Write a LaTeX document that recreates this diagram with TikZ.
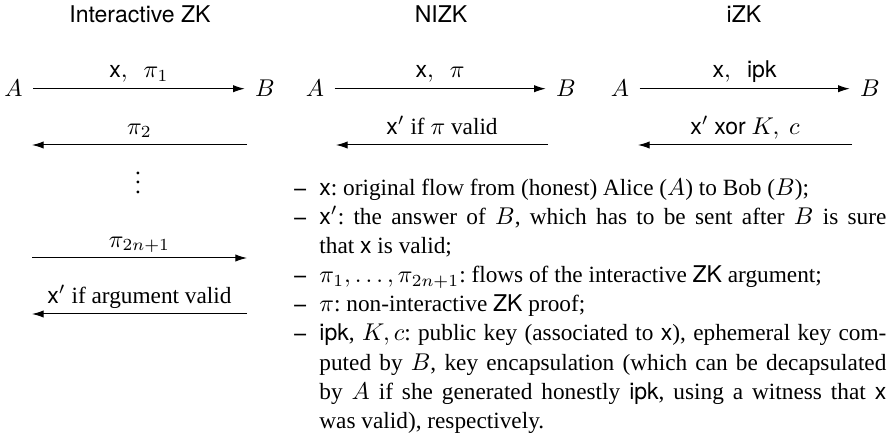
\documentclass[tikz,border=0pt]{standalone}
\usepackage[no-math]{fontspec}
\setmainfont{Liberation Serif}[Scale=0.96]
\setsansfont{TeX Gyre Heros}[Scale=0.95]
\usetikzlibrary{arrows.meta}
\newcommand\itm{\par\noindent\llap{\textbf{--}\hskip5.5pt}}
\begin{document}
\begin{tikzpicture}[x=0.41237pt,y=-0.41237pt,
  msg/.style={-{Latex[length=4.8pt,width=3pt]}, line width=0.42pt},
  ent/.style={inner xsep=4.1pt, inner ysep=0pt, anchor=base},
  lbl/.style={anchor=base, inner sep=0pt, yshift=4.5pt},
  head/.style={anchor=base, inner sep=0pt, font=\sffamily}]
\useasboundingbox (0,0) rectangle (888,440);

% headings
\node[head] (h1) at (140,23) {Interactive ZK};
\node[head] (h2) at (441,23) {NIZK};
\node[head] (h3) at (744,23) {iZK};

% column 1: interactive ZK
\node[ent] (A1) at (13.5,97) {$A$};
\node[ent] (B1) at (265,97) {$B$};
\draw[msg] (A1) -- node[lbl] (l11) {$\textsf{x},\hspace{5pt}\pi_1$} (B1);
\coordinate (c12s) at (247,145);
\coordinate (c12e) at (32,145);
\draw[msg] (c12s) -- node[lbl] (l12) {$\pi_2$} (c12e);
\node[anchor=base, inner sep=0pt] (dots) at (138,193.5) {$\vdots$};
\coordinate (c13s) at (32,258);
\coordinate (c13e) at (247,258);
\draw[msg] (c13s) -- node[lbl] (l13) {$\pi_{2n+1}$} (c13e);
\coordinate (c14s) at (247,314);
\coordinate (c14e) at (32,314);
\draw[msg] (c14s) -- node[lbl] (l14) {\textsf{x}$'$ if argument valid} (c14e);

% column 2: NIZK
\node[ent] (A2) at (315,97) {$A$};
\node[ent] (B2) at (566,97) {$B$};
\draw[msg] (A2) -- node[lbl] (l21) {$\textsf{x},\hspace{5pt}\pi$} (B2);
\coordinate (c22s) at (548,145);
\coordinate (c22e) at (336,145);
\draw[msg] (c22s) -- node[lbl] (l22) {\textsf{x}$'$ if $\pi$ valid} (c22e);

% column 3: iZK
\node[ent] (A3) at (620,97) {$A$};
\node[ent] (B3) at (870,97) {$B$};
\draw[msg] (A3) -- node[lbl] (l31) {$\textsf{x},\hspace{5pt}\textsf{ipk}$} (B3);
\coordinate (c32s) at (852,145);
\coordinate (c32e) at (638,145);
\draw[msg] (c32s) -- node[lbl] (l32) {\textsf{x}$'$ \textsf{xor} $K,\ c$} (c32e);

% legend
\node[anchor=north west, inner sep=0pt] (notes) at (293,173.2) {%
\begin{minipage}[t]{244.5pt}
\leftskip=10.7pt\rightskip=0pt\parfillskip=0pt plus 1fil\parindent=0pt\parskip=0pt
\frenchspacing\baselineskip=12pt
\itm\rule{0pt}{9pt}\textsf{x}: original flow from (honest) Alice ($A$) to Bob ($B$);
\itm \textsf{x}$'$: the answer of $B$, which has to be sent after $B$ is sure\linebreak that \textsf{x} is valid;
\itm $\pi_1,\ldots,\pi_{2n+1}$: flows of the interactive \textsf{ZK} argument;
\itm $\pi$: non-interactive \textsf{ZK} proof;
\itm \textsf{ipk}, $K, c$: public key (associated to \textsf{x}), ephemeral key com-\linebreak puted by $B$, key encapsulation (which can be decapsulated\linebreak by $A$ if she generated honestly \textsf{ipk}, using a witness that \textsf{x}\linebreak was valid), respectively.\par
\end{minipage}};
\end{tikzpicture}
\end{document}
